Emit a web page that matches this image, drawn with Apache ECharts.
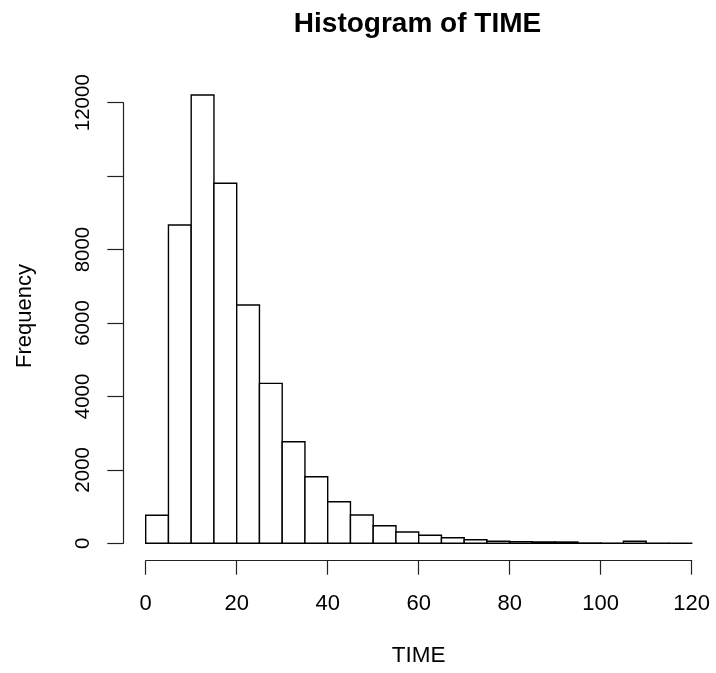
<!DOCTYPE html>
<html>
<head>
<meta charset="utf-8">
<script src="https://cdn.jsdelivr.net/npm/echarts@6/dist/echarts.min.js"></script>
<style>
html,body{margin:0;padding:0;background:#fff;}
#chart{width:716px;height:673px;}
</style>
</head>
<body>
<div id="chart"></div>
<script>
// Histogram bins (TIME), width 5
const binStart = [0,5,10,15,20,25,30,35,40,45,50,55,60,65,70,75,80,85,90,95,100,105,110,115];
const binEnd   = [5,10,15,20,25,30,35,40,45,50,55,60,65,70,75,80,85,90,95,100,105,110,115,120];
const counts   = [765,8670,12210,9805,6490,4357,2767,1814,1133,771,479,308,218,153,98,55,45,40,35,8,4,55,3,2];
const xTicks = [0,20,40,60,80,100,120];
const yTicks = [0,2000,4000,6000,8000,10000,12000];
// R drops the 10000 label (overlap); only these are printed
const yLabelsShown = [0,2000,4000,6000,8000,12000];

const font = '"Liberation Sans", Arial, sans-serif';
const data = binStart.map((s, i) => [s, binEnd[i], counts[i]]);

const chart = echarts.init(document.getElementById('chart'), null, {renderer: 'canvas'});
chart.setOption({
  animation: false,
  backgroundColor: '#fff',
  title: {
    text: 'Histogram of TIME',
    left: 412.5,
    textAlign: 'center',
    top: 5,
    textStyle: {fontFamily: font, fontWeight: 'bold', fontSize: 28, color: '#000'}
  },
  grid: {left: 145.7, right: 24.3, top: 102.7, bottom: 129.7, containLabel: false, outerBoundsMode: 'none'},
  xAxis: {
    type: 'value',
    min: xTicks[0], max: xTicks[xTicks.length - 1], interval: 20,
    offset: 17.4,
    name: 'TIME',
    nameLocation: 'middle',
    nameGap: 84,
    nameMoveOverlap: false,
    nameTextStyle: {fontFamily: font, fontSize: 22.5, color: '#000'},
    axisLine: {show: true, onZero: false, lineStyle: {color: '#222', width: 1.2}},
    axisTick: {show: true, length: 14, lineStyle: {color: '#222', width: 1.2}},
    axisLabel: {margin: 32, fontFamily: font, fontSize: 22, color: '#000', formatter: v => String(v)},
    splitLine: {show: false}
  },
  yAxis: {
    type: 'value',
    min: yTicks[0], max: yTicks[yTicks.length - 1], interval: 2000,
    offset: 22.4,
    name: 'Frequency',
    nameLocation: 'middle',
    nameGap: 87,
    nameRotate: 90,
    nameMoveOverlap: false,
    nameTextStyle: {fontFamily: font, fontSize: 22, color: '#000', padding: [0, 0, 0, 14]},
    axisLine: {show: true, onZero: false, lineStyle: {color: '#222', width: 1.2}},
    axisTick: {show: true, length: 16, lineStyle: {color: '#222', width: 1.2}},
    axisLabel: {rotate: 90, margin: 29, fontFamily: font, fontSize: 20.5, color: '#000',
      formatter: v => (yLabelsShown.indexOf(v) >= 0 ? String(v) : '')},
    splitLine: {show: false}
  },
  series: [{
    type: 'custom',
    clip: false,
    data: data,
    renderItem: function (params, api) {
      const p0 = api.coord([api.value(0), api.value(2)]);
      const p1 = api.coord([api.value(1), 0]);
      return {
        type: 'rect',
        shape: {x: p0[0], y: p0[1], width: p1[0] - p0[0], height: p1[1] - p0[1]},
        style: {fill: '#fff', stroke: '#000', lineWidth: 1.4}
      };
    }
  }]
});
</script>
</body>
</html>
